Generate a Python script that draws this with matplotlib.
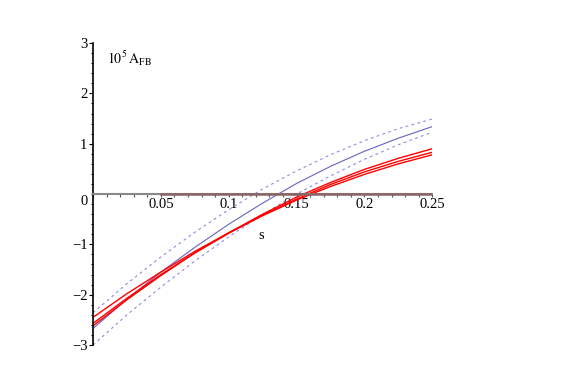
import numpy as np
import matplotlib.pyplot as plt
from matplotlib.ticker import MultipleLocator

plt.rcParams['font.family'] = ['Liberation Serif', 'DejaVu Serif']
plt.rcParams['mathtext.fontset'] = 'stix'

# values
s = [0, 0.025, 0.05, 0.075, 0.1, 0.125, 0.15, 0.175, 0.2, 0.225, 0.25]
blue_mid = [-2.67, -2.09, -1.55, -1.06, -0.60, -0.18, 0.21, 0.55, 0.85, 1.11, 1.34]
blue_up = [-2.36, -1.78, -1.25, -0.76, -0.31, 0.10, 0.46, 0.78, 1.06, 1.30, 1.49]
blue_lo = [-3.00, -2.40, -1.85, -1.33, -0.85, -0.41, 0.00, 0.36, 0.69, 0.98, 1.23]
red_a = [-2.45, -1.98, -1.55, -1.14, -0.77, -0.43, -0.12, 0.15, 0.39, 0.60, 0.78]
red_b = [-2.57, -2.07, -1.60, -1.17, -0.78, -0.42, -0.10, 0.19, 0.44, 0.65, 0.83]
red_c = [-2.62, -2.10, -1.62, -1.17, -0.77, -0.40, -0.06, 0.23, 0.49, 0.71, 0.90]
zero_s = [0.05, 0.25]
zero_y = [0, 0]

fig = plt.figure(figsize=(5.85, 3.71), dpi=100)
ax = fig.add_axes([0.159, 0.070, 0.580, 0.814])

ax.plot(zero_s, zero_y, color='#8c6464', lw=1.8, zorder=3)
ax.plot(s, blue_up, color='#8c8ce0', lw=0.8, ls=(0, (2.5, 3)))
ax.plot(s, blue_lo, color='#8c8ce0', lw=0.8, ls=(0, (2.5, 3)))
ax.plot(s, blue_mid, color='#6464c0', lw=0.8)
for r in (red_a, red_b, red_c):
    ax.plot(s, r, color='#ff0000', lw=1.0)

ax.set_xlim(0, 0.25)
ax.set_ylim(-3, 3)
ax.spines['top'].set_visible(False)
ax.spines['right'].set_visible(False)
ax.spines['bottom'].set_position(('data', 0))
ax.spines['bottom'].set_color('#888888')
ax.spines['bottom'].set_linewidth(1.5)
ax.spines['left'].set_linewidth(1.2)

ax.set_xticks([0.05, 0.1, 0.15, 0.2, 0.25])
ax.set_xticklabels(['0.05', '0.1', '0.15', '0.2', '0.25'])
ax.xaxis.set_minor_locator(MultipleLocator(0.01))
ax.set_yticks([-3, -2, -1, 1, 2, 3])
ax.set_yticklabels(['\u22123', '\u22122', '\u22121', '1', '2', '3'])
ax.yaxis.set_minor_locator(MultipleLocator(0.2))
ax.tick_params(axis='x', which='both', direction='out', length=2, width=0.8,
               color='#555555', pad=1, labelsize=10.5)
ax.tick_params(axis='y', which='major', direction='out', length=3, width=0.8,
               pad=1, labelsize=10.5)
ax.tick_params(axis='y', which='minor', direction='out', length=1.5, width=0.8)

ax.text(-0.004, -0.15, '0', ha='right', va='center', fontsize=10.5)
ax.text(0.010, 2.70, r'$\mathrm{10^5\,A_{FB}}$', ha='left', va='center', fontsize=10)
ax.text(0.124, -0.82, 's', ha='center', va='center', fontsize=10.5)

fig.savefig('out.png', dpi=100)
